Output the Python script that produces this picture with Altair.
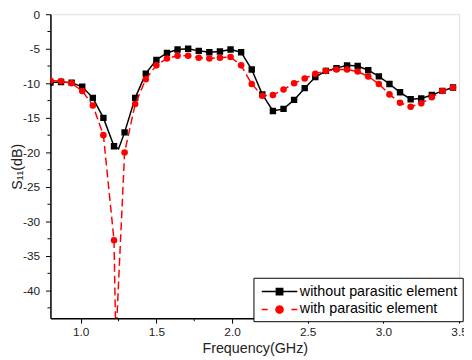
import math
import altair as alt
import pandas as pd

# ---- data ----
freq = [0.80, 0.87, 0.94, 1.01, 1.08, 1.15, 1.22, 1.29, 1.36, 1.43,
        1.50, 1.57, 1.64, 1.71, 1.78, 1.85, 1.92, 1.99, 2.06, 2.13,
        2.20, 2.27, 2.34, 2.41, 2.48, 2.55, 2.62, 2.69, 2.76, 2.83,
        2.90, 2.97, 3.04, 3.11, 3.18, 3.25, 3.32, 3.39, 3.46]
s11_without = [-9.9, -9.8, -9.9, -10.5, -12.1, -15.0, -19.1, -17.1, -12.1, -8.6,
               -6.6, -5.6, -5.1, -5.0, -5.3, -5.5, -5.4, -5.1, -5.5, -8.0,
               -11.6, -14.0, -13.7, -12.4, -10.7, -9.1, -8.2, -7.8, -7.4, -7.5,
               -8.1, -9.0, -10.1, -11.3, -12.3, -12.2, -11.7, -11.1, -10.6]
s11_with = [-9.6, -9.7, -10.0, -11.1, -13.2, -17.5, -32.7, -20.0, -13.0, -9.4,
            -7.4, -6.4, -6.0, -6.0, -6.3, -6.4, -6.3, -6.2, -7.4, -10.1,
            -11.8, -11.7, -10.9, -10.0, -9.3, -8.6, -8.2, -8.0, -8.0, -8.3,
            -9.0, -10.1, -11.6, -12.8, -13.4, -12.9, -12.0, -11.1, -10.6]
# resonance minima between sampled points (line vertices only)
dip_without_x, dip_without_y = [1.25], [-19.5]
dip_with_x, dip_with_y = [1.232], [-47.4]

series_names = ["without parasitic element", "with parasitic element"]
x_ticks = [1.0, 1.5, 2.0, 2.5, 3.0, 3.5]
x_minor = [1.25, 1.75, 2.25, 2.75, 3.25]
y_ticks = [-40, -35, -30, -25, -20, -15, -10, -5, 0]
y_minor = [-42.5, -37.5, -32.5, -27.5, -22.5, -17.5, -12.5, -7.5, -2.5]

FONT = "Liberation Sans"

pts_wo = pd.DataFrame({"x": freq, "y": s11_without})
pts_w = pd.DataFrame({"x": freq, "y": s11_with})
line_wo = pd.concat([pts_wo, pd.DataFrame({"x": dip_without_x, "y": dip_without_y})]).sort_values("x")
line_w = pd.concat([pts_w, pd.DataFrame({"x": dip_with_x, "y": dip_with_y})]).sort_values("x")
legend_df = pd.DataFrame({"x": freq[:2], "y": s11_without[:2], "series": series_names})

x_axis = alt.Axis(values=x_ticks, format=".1f", title="Frequency(GHz)", grid=False,
                  tickSize=5, tickWidth=1, tickColor="black", domainColor="black",
                  domainWidth=1.5, labelFont=FONT, labelFontSize=12, labelColor="#222",
                  labelPadding=4, labelFlush=False, labelOverlap=False,
                  titleFont=FONT, titleFontSize=14.5, titleFontWeight="normal",
                  titleColor="#222", titleX=207, titleY=35, titleAlign="center",
                  titleBaseline="alphabetic")
y_axis = alt.Axis(values=y_ticks, labelExpr="toString(datum.value)", title="S\u2081\u2081(dB)",
                  grid=False, tickSize=5, tickWidth=1, tickColor="black", domainColor="black",
                  domainWidth=1.5, labelFont=FONT, labelFontSize=12, labelColor="#222",
                  labelPadding=6, labelFlush=False, labelOverlap=False,
                  titleFont=FONT, titleFontSize=14.5, titleFontWeight="normal",
                  titleColor="#222", titleAngle=270, titleX=-33, titleY=154,
                  titleAlign="center", titleBaseline="middle")

X = alt.X("x:Q", scale=alt.Scale(domain=[0.8, 3.5], nice=False, zero=False), axis=x_axis)
Y = alt.Y("y:Q", scale=alt.Scale(domain=[-44, 0], nice=False, zero=False), axis=y_axis)

black_line = alt.Chart(line_wo).mark_line(color="black", strokeWidth=1.5, clip=True).encode(x=X, y=Y)
black_pts = alt.Chart(pts_wo).mark_point(shape="square", filled=True, size=42, color="black",
                                         opacity=1, clip=True).encode(x=X, y=Y)
red_line = alt.Chart(line_w).mark_line(color="#ff0000", strokeWidth=1.5, strokeDash=[8, 4],
                                       clip=True).encode(x=X, y=Y)
red_pts = alt.Chart(pts_w).mark_point(shape="circle", filled=True, size=44, color="#ff0000",
                                      opacity=1, clip=True).encode(x=X, y=Y)

xminor = alt.Chart(pd.DataFrame({"x": x_minor})).mark_rule(color="black", strokeWidth=1).encode(
    x=X, y=alt.value(308), y2=alt.value(311))
yminor = alt.Chart(pd.DataFrame({"y": y_minor})).mark_rule(color="black", strokeWidth=1).encode(
    y=Y, x=alt.value(-3), x2=alt.value(0))

# legend symbols: line + marker drawn as custom paths
c = 1.55  # marker centre (symbol units)
sq = 0.4
path_black = (f"M{c-2.25},0L{c+2.25},0M{c-sq},{-sq}L{c+sq},{-sq}L{c+sq},{sq}L{c-sq},{sq}Z")
circ = "M" + "L".join(f"{c+0.45*math.cos(2*math.pi*k/24):.4f},{0.45*math.sin(2*math.pi*k/24):.4f}"
                      for k in range(24)) + "Z"
path_red = f"M{c-2.25},0L{c-1.5},0M{c+1.5},0L{c+2.25},0" + circ

leg = alt.Legend(title=None, orient="none", legendX=205.7, legendY=267, direction="vertical",
                 padding=5, strokeColor="black", fillColor="white", labelFont=FONT,
                 labelFontSize=14.5, labelColor="black", labelOffset=24, rowPadding=2.2,
                 symbolSize=256, symbolStrokeWidth=1.5, labelLimit=400)
dom = series_names
legend_layer = alt.Chart(legend_df).mark_point(opacity=1, filled=True).encode(
    x=X, y=Y,
    fill=alt.Fill("series:N", scale=alt.Scale(domain=dom, range=["black", "#ff0000"]), legend=leg),
    stroke=alt.Stroke("series:N", scale=alt.Scale(domain=dom, range=["black", "#ff0000"]), legend=leg),
    shape=alt.Shape("series:N", scale=alt.Scale(domain=dom, range=[path_black, path_red]), legend=leg),
).transform_filter(alt.datum.y < -1000)

chart = alt.layer(black_line, xminor, yminor, black_pts, red_line, red_pts, legend_layer).properties(
    width=414, height=308,
    autosize=alt.AutoSizeParams(type="none"),
    padding={"left": 43, "top": 4, "right": 5, "bottom": 40},
).configure_view(stroke="transparent").configure(font=FONT)

chart.save("out.html", embed_options={"renderer": "svg", "actions": False})
